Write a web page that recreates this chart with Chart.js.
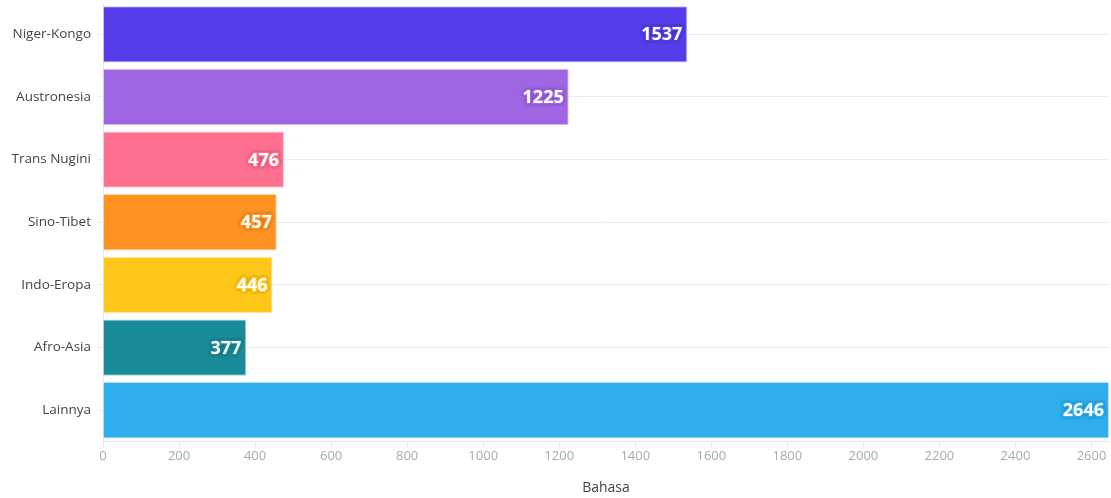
<!DOCTYPE html>
<html>
<head>
<meta charset="utf-8">
<script src="https://cdn.jsdelivr.net/npm/chart.js@4"></script>
<style>
  html, body { margin: 0; padding: 0; background: #fff; }
  #wrap { width: 1111px; height: 498px; }
</style>
</head>
<body>
<div id="wrap"><canvas id="chart-1"></canvas></div>
<script>
const categories = ["Niger-Kongo", "Austronesia", "Trans Nugini", "Sino-Tibet", "Indo-Eropa", "Afro-Asia", "Lainnya"];
const values = [1537, 1225, 476, 457, 446, 377, 2646];
const barColors = ["#553de9", "#9f66e3", "#ff7090", "#ff9321", "#ffc71a", "#1a8b99", "#2fadec"];
const borderColors = ["#c9c0fa", "#dcc6f6", "#ffc8d4", "#ffd6ac", "#ffe9a4", "#a6d6dc", "#b8e2f8"];

// white value labels inside the end of each bar
const valueLabels = {
  id: "valueLabels",
  afterDatasetsDraw(chart) {
    const ctx = chart.ctx;
    const meta = chart.getDatasetMeta(0);
    ctx.save();
    ctx.font = "bold 18px 'Open Sans', sans-serif";
    ctx.textAlign = "right";
    ctx.textBaseline = "middle";
    meta.data.forEach((bar, i) => {
      const x = bar.x - 5;
      const y = bar.y + 1;
      ctx.lineJoin = "round";
      ctx.lineWidth = 3;
      ctx.strokeStyle = barColors[i];
      ctx.shadowColor = "rgba(0,0,0,0.35)";
      ctx.shadowBlur = 3;
      ctx.strokeText(values[i], x, y);
      ctx.shadowBlur = 0;
      ctx.fillStyle = "#fff";
      ctx.fillText(values[i], x, y);
    });
    ctx.restore();
  }
};

const ctx1 = document.getElementById("chart-1").getContext("2d");
const myChart = new Chart(ctx1, {
  type: "bar",
  data: {
    labels: categories,
    datasets: [
      {
        label: "Bahasa",
        data: values,
        backgroundColor: barColors,
        borderColor: borderColors,
        borderWidth: 1,
        barPercentage: 0.9,
        categoryPercentage: 1,
      },
    ],
  },
  options: {
    indexAxis: "y",
    responsive: true,
    maintainAspectRatio: false,
    animation: false,
    layout: { padding: { top: 3, right: 2, left: 0, bottom: 0 } },
    plugins: {
      legend: { display: false },
      tooltip: { enabled: false },
    },
    scales: {
      x: {
        min: 0,
        max: 2646,
        ticks: {
          stepSize: 200,
          includeBounds: false,
          color: "#aaaaaa",
          font: { family: "'Open Sans', sans-serif", size: 13 },
          padding: 1,
          callback: (v) => String(v),
        },
        grid: {
          drawOnChartArea: false,
          drawTicks: true,
          tickLength: 6,
          color: "#e8e8ee",
        },
        border: { color: "#e8e8ee" },
        title: {
          display: true,
          text: "Bahasa",
          color: "#444",
          font: { family: "'Open Sans', sans-serif", size: 14 },
          padding: { top: 14, bottom: 2 },
        },
      },
      y: {
        afterFit: (axis) => {
          axis.width = 103;
          axis.paddingTop = 0;
          axis.paddingBottom = 0;
        },
        ticks: {
          color: "#444",
          font: { family: "'Open Sans', sans-serif", size: 13.5 },
          padding: 6,
        },
        grid: {
          offset: false,
          color: "#ececf0",
          tickLength: 6,
        },
        border: { color: "#e8e8ee" },
      },
    },
  },
  plugins: [valueLabels],
});
</script>
</body>
</html>
